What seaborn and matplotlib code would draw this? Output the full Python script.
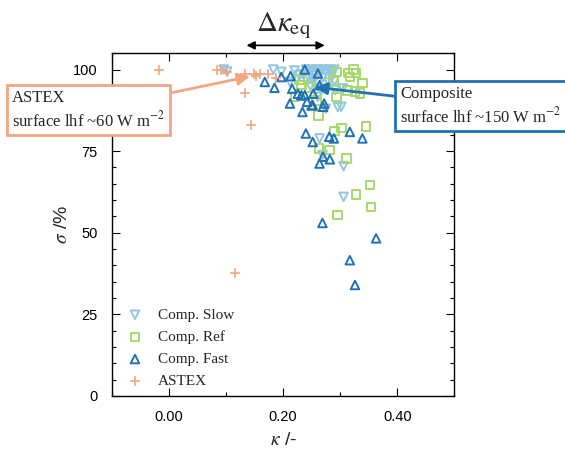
import matplotlib
matplotlib.use("Agg")
import matplotlib.pyplot as plt
from matplotlib.ticker import MultipleLocator, FormatStrFormatter
import seaborn as sns
import pandas as pd

# Cloud fraction sigma (%) against the kappa parameter for each run
slow_kappa = [0.096, 0.102, 0.183, 0.197, 0.212, 0.228, 0.22, 0.225, 0.235,
              0.24, 0.245, 0.25, 0.255, 0.26, 0.265, 0.27, 0.275, 0.28, 0.285,
              0.29, 0.255, 0.26, 0.27, 0.248, 0.28, 0.285, 0.265, 0.29,
              0.252, 0.291, 0.296, 0.302, 0.275, 0.261, 0.305, 0.264, 0.269,
              0.306, 0.306, 0.244, 0.258]
slow_sigma = [100, 99.4, 100, 99.3, 96.2, 98.3, 99.7, 97.0, 98.5,
              100, 99.5, 100, 99.0, 100, 99.6, 100, 99.3, 100, 99.5,
              100, 97.0, 96.0, 97.5, 95.0, 96.0, 98.0, 94.0, 96.5,
              96.7, 93.7, 88.5, 88.6, 88.0, 91.6, 94.2, 78.9, 73.8,
              70.4, 61.0, 97.8, 98.2]

ref_kappa = [0.294, 0.314, 0.323, 0.328, 0.317, 0.339, 0.288, 0.232, 0.246,
             0.221, 0.259, 0.313, 0.326, 0.335, 0.294, 0.262, 0.29, 0.302,
             0.345, 0.263, 0.281, 0.311, 0.352, 0.328, 0.354, 0.295, 0.229]
ref_sigma = [99.3, 99.0, 100, 99.0, 97.7, 95.9, 96.5, 95.2, 94.5,
             91.8, 90.6, 93.5, 93.2, 92.7, 91.6, 86.0, 81.2, 82.1,
             82.6, 75.8, 75.3, 72.8, 64.6, 61.8, 57.9, 55.5, 97.0]

fast_kappa = [0.168, 0.185, 0.197, 0.213, 0.238, 0.216, 0.212, 0.234, 0.232,
              0.242, 0.252, 0.272, 0.226, 0.238, 0.25, 0.27, 0.253, 0.264,
              0.261, 0.24, 0.252, 0.281, 0.289, 0.317, 0.339, 0.27, 0.282,
              0.264, 0.269, 0.363, 0.317, 0.326]
fast_sigma = [96.2, 94.4, 97.7, 98.0, 100, 94.1, 89.6, 87.0, 92.1,
              90.1, 89.1, 89.6, 92.6, 92.1, 89.0, 88.6, 92.6, 95.2,
              98.8, 80.4, 77.8, 79.4, 78.9, 80.9, 78.9, 73.3, 72.5,
              71.2, 53.0, 48.3, 41.6, 34.0]

astex_kappa = [-0.017, 0.084, 0.091, 0.102, 0.134, 0.149, 0.153, 0.159,
               0.174, 0.188, 0.134, 0.143, 0.115]
astex_sigma = [100, 100, 100, 99.3, 98.6, 98.6, 98.0, 98.6,
               98.6, 97.5, 92.7, 82.9, 37.6]

series_names = ["Comp. Slow", "Comp. Ref", "Comp. Fast", "ASTEX"]
series_colors = ["#92c5de", "#a6d96a", "#2171b5", "#f4a582"]
series_markers = ["v", "s", "^", "+"]

sns.set_theme(style="ticks")
plt.rcParams["font.family"] = ["Liberation Sans", "DejaVu Sans"]
plt.rcParams["mathtext.fontset"] = "stix"

frames = []
for name, xs, ys in zip(series_names,
                        [slow_kappa, ref_kappa, fast_kappa, astex_kappa],
                        [slow_sigma, ref_sigma, fast_sigma, astex_sigma]):
    frames.append(pd.DataFrame({"kappa": xs, "sigma": ys, "run": name}))
data = pd.concat(frames, ignore_index=True)

fig = plt.figure(figsize=(5.65, 4.51), dpi=100)
ax = fig.add_axes([0.198, 0.122, 0.606, 0.76])

for name, col, mk in zip(series_names, series_colors, series_markers):
    sub = data[data["run"] == name]
    if mk == "+":
        sns.scatterplot(data=sub, x="kappa", y="sigma", marker=mk, s=45,
                        color=col, linewidth=1.2, label=name, ax=ax)
    else:
        sns.scatterplot(data=sub, x="kappa", y="sigma", marker=mk, s=38,
                        facecolor="none", edgecolor=col, linewidth=1.4,
                        label=name, ax=ax)

ax.set_xlim(-0.1, 0.5)
ax.set_ylim(0, 105)
ax.xaxis.set_major_locator(MultipleLocator(0.2))
ax.xaxis.set_minor_locator(MultipleLocator(0.1))
ax.yaxis.set_major_locator(MultipleLocator(25))
ax.yaxis.set_minor_locator(MultipleLocator(5))
ax.xaxis.set_major_formatter(FormatStrFormatter("%.2f"))
ax.tick_params(which="both", direction="in", top=True, right=True,
               labelsize=10.5, colors="black", width=0.8)
ax.tick_params(which="major", length=6, pad=10)
ax.tick_params(which="minor", length=3)
for sp in ax.spines.values():
    sp.set_linewidth(1.0)
    sp.set_color("black")

ax.set_xlabel(r"$\kappa$ /-", fontsize=14, labelpad=6)
ax.set_ylabel(r"$\sigma$ /%", fontsize=14, labelpad=2)

leg = ax.legend(loc="lower left", bbox_to_anchor=(0.005, 0.005), frameon=False,
                prop={"family": "Liberation Serif", "size": 11},
                handletextpad=0.5, labelspacing=0.55, borderaxespad=0.0)

# Equilibrium kappa range marker above the axes
ax.annotate("", xy=(0.136, 107.4), xytext=(0.273, 107.4),
            xycoords="data", annotation_clip=False,
            arrowprops=dict(arrowstyle="<|-|>", color="black", lw=1.2,
                            mutation_scale=12, shrinkA=0, shrinkB=0))
ax.text(0.2, 113.5, r"$\Delta\kappa_{\rm eq}$", fontsize=21,
        ha="center", va="center", clip_on=False)

# Callout boxes with arrows
ax.annotate("ASTEX\nsurface lhf ~60 W m$^{-2}$", xy=(0.142, 97.9),
            xytext=(12, 341), textcoords="figure pixels",
            ha="left", va="center", fontsize=12, family="Liberation Serif",
            linespacing=1.3,
            bbox=dict(boxstyle="square,pad=0.3", fc="white", ec="#f4a582", lw=2),
            arrowprops=dict(arrowstyle="-|>", color="#f4a582", lw=2,
                            mutation_scale=18, shrinkA=0, shrinkB=0))
ax.annotate("Composite\nsurface lhf ~150 W m$^{-2}$", xy=(0.256, 94.6),
            xytext=(400, 345), textcoords="figure pixels",
            ha="left", va="center", fontsize=12, family="Liberation Serif",
            linespacing=1.3,
            bbox=dict(boxstyle="square,pad=0.3", fc="white", ec="#2171b5", lw=2),
            arrowprops=dict(arrowstyle="-|>", color="#2171b5", lw=2,
                            mutation_scale=18, shrinkA=0, shrinkB=0))

fig.savefig("out.png", dpi=100)
